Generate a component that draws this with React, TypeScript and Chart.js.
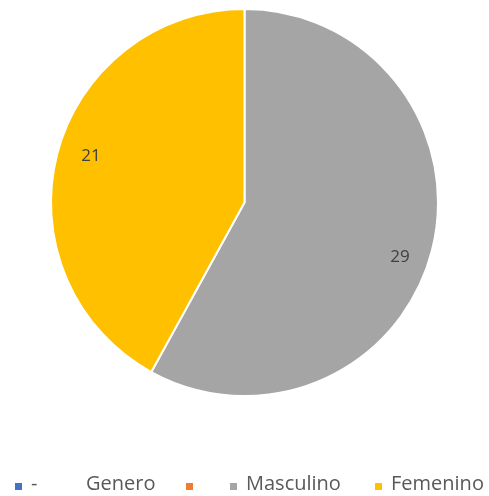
import React, { useEffect, useRef } from "react";
import { Chart, registerables } from "chart.js";

Chart.register(...registerables);

const seriesName = "Genero";
const categories = ["-", "", "Masculino", "Femenino"];
const values = [0, 0, 29, 21];
const colors = ["#4472C4", "#ED7D31", "#A5A5A5", "#FFC000"];

// legend layout (style)
const legendBoxX = [15, 186, 230, 375];
const seriesNameX = 86;
const legendY = 484;
const labelNudge = [
  [0, 0],
  [0, 0],
  [0, 15],
  [2, -6],
];

const FONT = "'Open Sans', sans-serif";

const overlayPlugin = {
  id: "overlay",
  afterDatasetsDraw(chart: any) {
    const ctx = chart.ctx;
    const meta = chart.getDatasetMeta(0);
    ctx.save();
    // data labels
    ctx.font = `17px ${FONT}`;
    ctx.fillStyle = "#404040";
    ctx.textAlign = "center";
    ctx.textBaseline = "middle";
    meta.data.forEach((arc: any, i: number) => {
      const v = values[i];
      if (!v) return;
      const p = arc.getProps(["x", "y", "startAngle", "endAngle", "outerRadius"], true);
      const mid = (p.startAngle + p.endAngle) / 2;
      const r = p.outerRadius * 0.83;
      ctx.fillText(
        String(v),
        p.x + Math.cos(mid) * r + labelNudge[i][0],
        p.y + Math.sin(mid) * r + labelNudge[i][1]
      );
    });
    // legend
    ctx.font = `20px ${FONT}`;
    ctx.textAlign = "left";
    categories.forEach((c, i) => {
      ctx.fillStyle = colors[i];
      ctx.fillRect(legendBoxX[i], legendY - 1, 7, 7);
      if (c) {
        ctx.fillStyle = "#595959";
        ctx.fillText(c, legendBoxX[i] + 16, legendY);
      }
    });
    ctx.fillStyle = "#595959";
    ctx.fillText(seriesName, seriesNameX, legendY);
    ctx.restore();
  },
};

export default function App() {
  const ref = useRef<HTMLCanvasElement>(null);
  useEffect(() => {
    const chart = new Chart(ref.current!, {
      type: "pie",
      data: {
        labels: categories,
        datasets: [
          {
            label: seriesName,
            data: values,
            backgroundColor: colors,
            borderColor: "#FFFFFF",
            borderWidth: 2,
          },
        ],
      },
      options: {
        animation: false,
        responsive: false,
        layout: { padding: { top: 8, bottom: 99, left: 0, right: 0 } },
        plugins: {
          legend: { display: false },
          tooltip: { enabled: false },
        },
      },
      plugins: [overlayPlugin],
    });
    return () => chart.destroy();
  }, []);
  return (
    <div style={{ position: "fixed", left: 0, top: 0, width: 489, height: 496, background: "#fff" }}>
      <canvas ref={ref} width={489} height={496} style={{ width: 489, height: 496 }} />
    </div>
  );
}
